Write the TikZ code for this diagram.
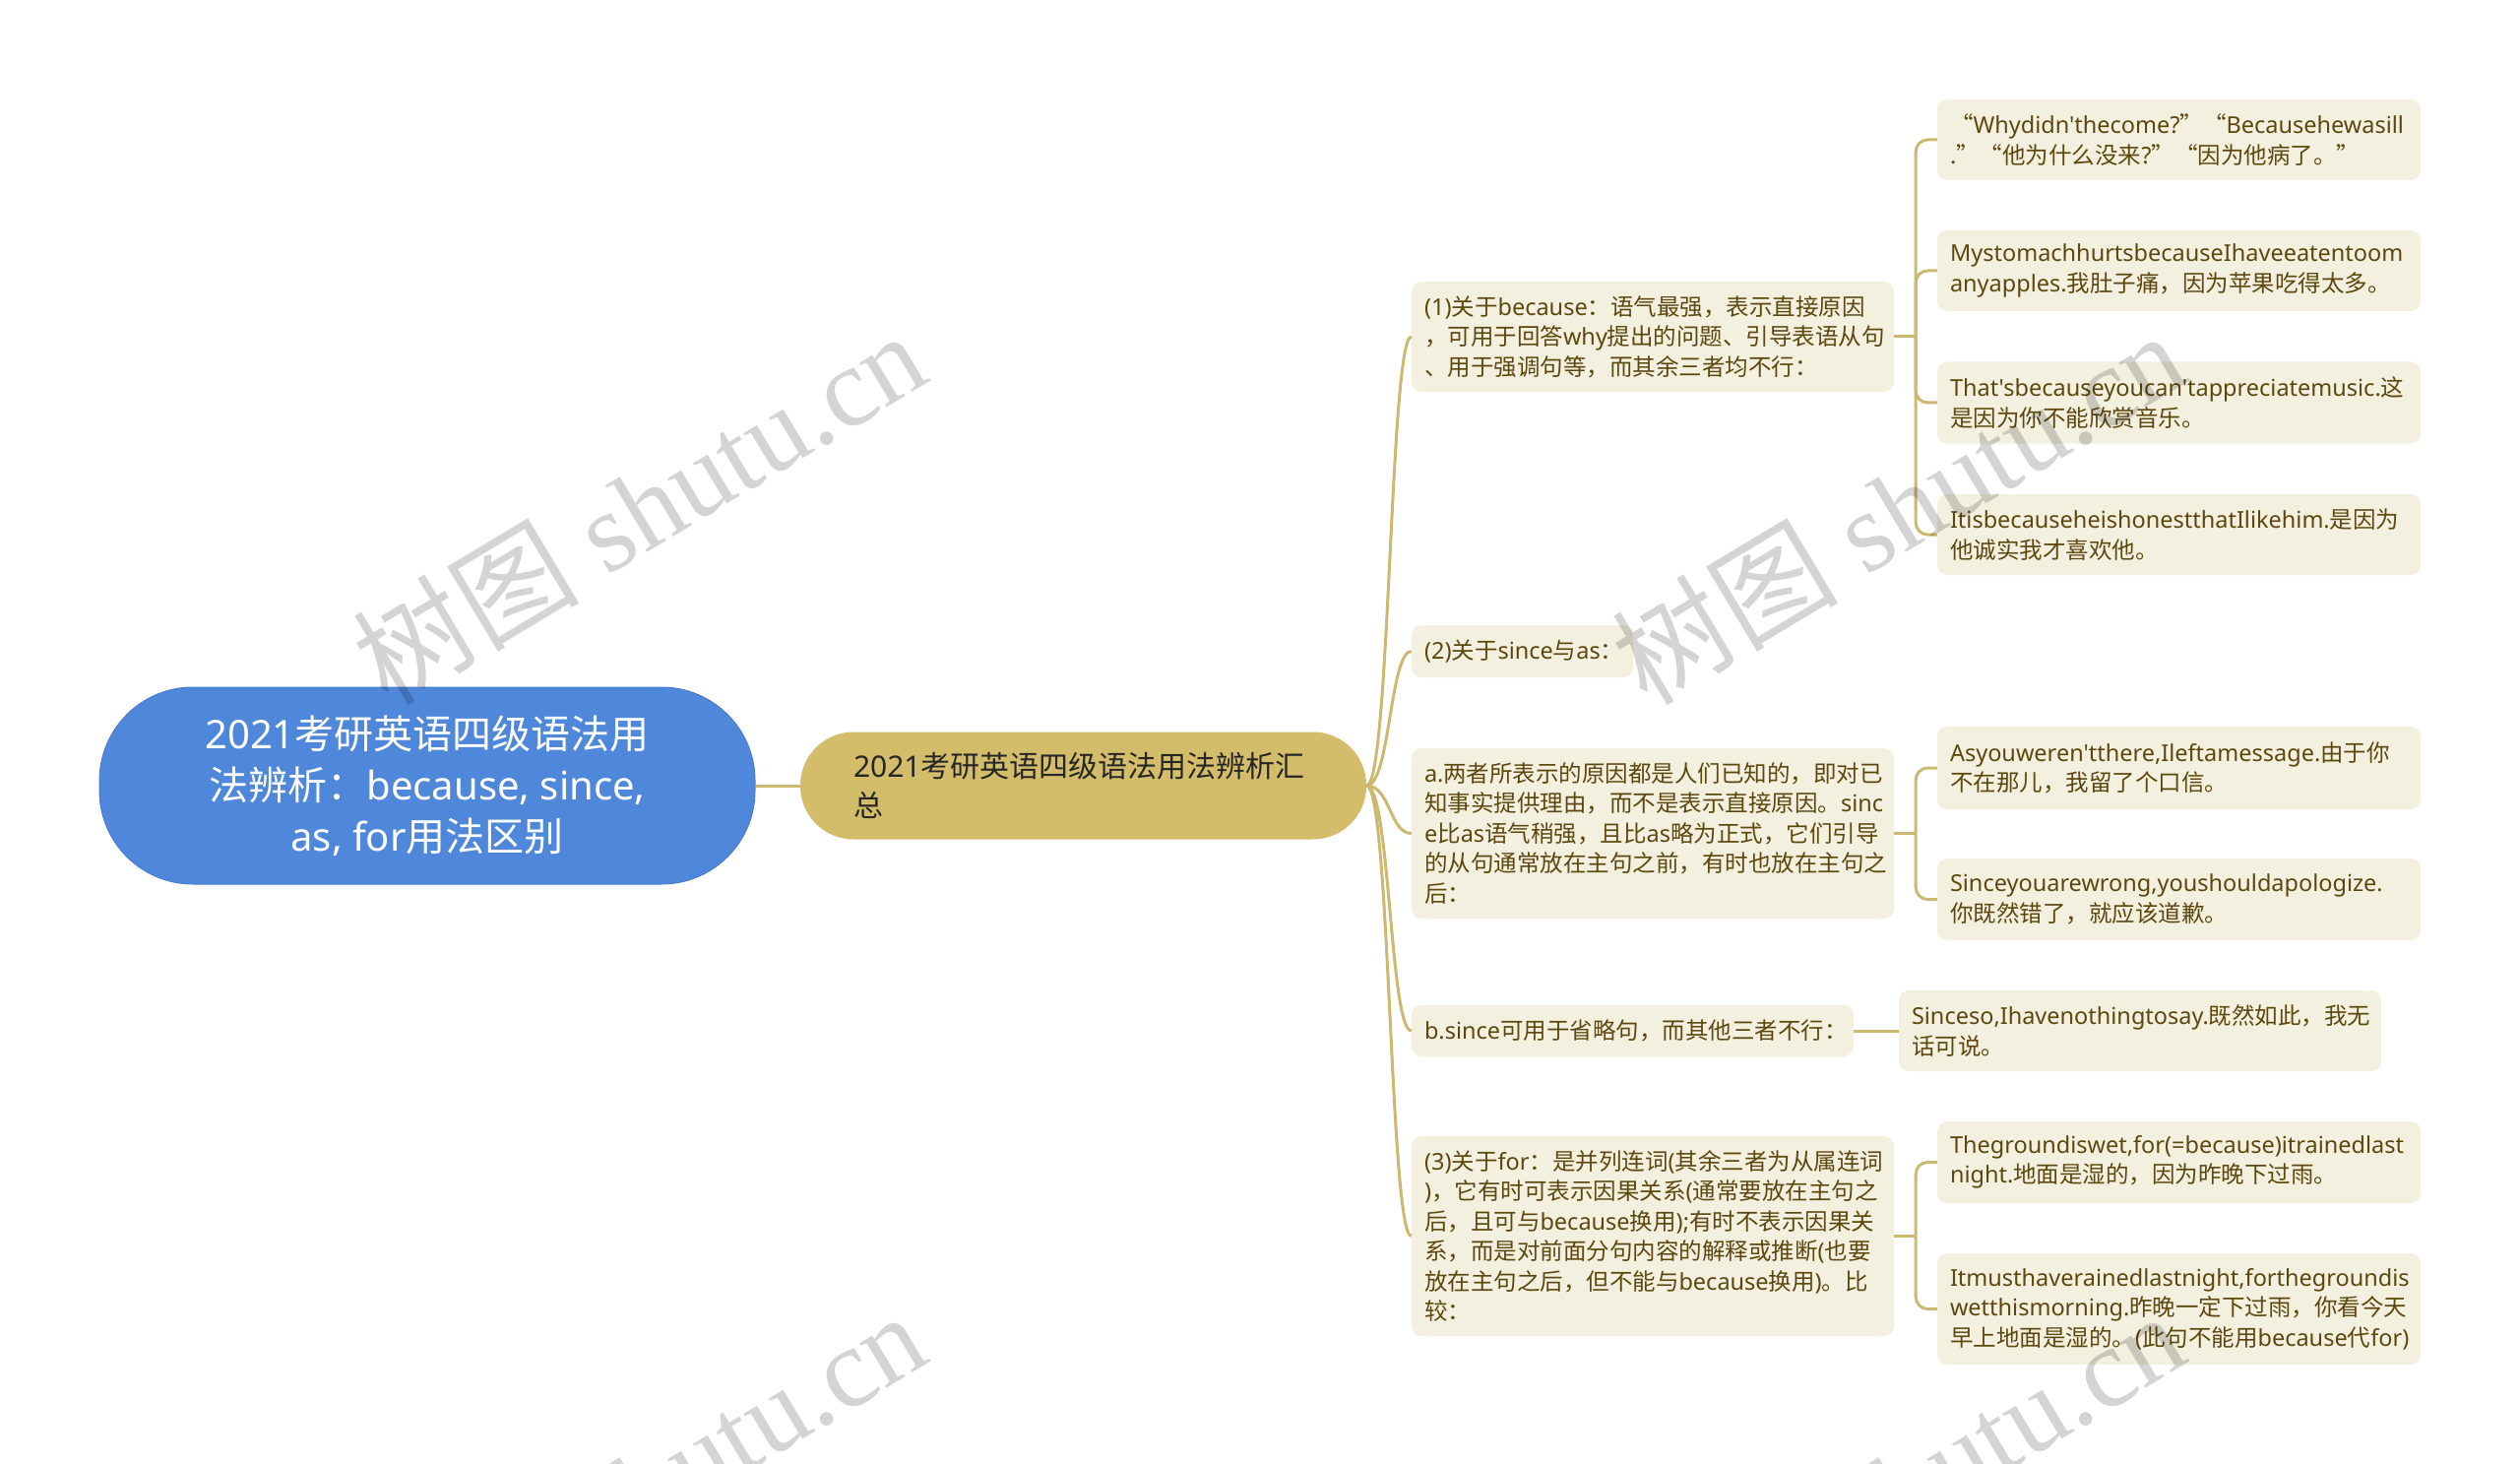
\documentclass[tikz,border=0pt]{standalone}
\usepackage{fontspec}
\setmainfont{Noto Sans}[Ligatures=TeXOff]
\newfontfamily\cjkfont{Noto Sans CJK SC}
\newfontfamily\wmfont{Liberation Serif}
% automatic switch to the CJK font for CJK characters
\XeTeXinterchartokenstate=1
\newXeTeXintercharclass\cjkcls
\newcount\cjkc
\def\setclassrange#1#2#3{\cjkc=#1\relax
  \loop\XeTeXcharclass\cjkc=#3\relax
  \ifnum\cjkc<#2\relax\advance\cjkc by 1\relax\repeat}
\setclassrange{"0000}{"2E7F}{0}
\setclassrange{"2E80}{"9FFF}{\cjkcls}
\setclassrange{"FF00}{"FFEF}{\cjkcls}
\XeTeXcharclass"201C=\cjkcls
\XeTeXcharclass"201D=\cjkcls
\XeTeXinterchartoks 0 \cjkcls = {\begingroup\cjkfont}
\XeTeXinterchartoks 4095 \cjkcls = {\begingroup\cjkfont}
\XeTeXinterchartoks \cjkcls 0 = {\endgroup}
\XeTeXinterchartoks \cjkcls 4095 = {\endgroup}

\definecolor{rootblue}{HTML}{4F87DB}
\definecolor{rootedge}{HTML}{4A7DCC}
\definecolor{maingold}{HTML}{D4BD6A}
\definecolor{linegold}{HTML}{CCB86F}
\definecolor{leafbg}{HTML}{F4F0E0}
\definecolor{leaftext}{HTML}{5C480E}

\tikzset{
  conn/.style={draw=linegold, line width=3pt},
  rootbox/.style={fill=rootblue, draw=rootedge, line width=1pt, rounded corners=95pt,
    minimum width=666pt, minimum height=200pt, inner sep=0pt, align=center,
    text=white, font=\fontsize{40}{52}\selectfont},
  mainbox/.style={fill=maingold, rounded corners=54pt, minimum height=109pt,
    inner xsep=54pt, inner ysep=0pt, text width=467pt, align=left,
    text=black!85, font=\fontsize{30}{40}\selectfont},
  tbox/.style={fill=leafbg, rounded corners=10pt, inner xsep=13pt, inner ysep=0pt,
    align=left, text=leaftext, font=\fontsize{23.5}{30.5}\selectfont},
  wm/.style={text=black, text opacity=0.17, font=\wmfont\fontsize{115}{115}\selectfont,
    rotate=31, inner sep=0pt},
}

\begin{document}
\begin{tikzpicture}[x=1pt, y=-1pt]
\useasboundingbox (0,0) rectangle (2560,1487);

% root and main
\node[rootbox] (root) at (434,798) {2021考研英语四级语法用\\法辨析：because, since,\\as, for用法区别};
\node[mainbox] (main) at (1100.5,798) {2021考研英语四级语法用法辨析汇\\总};

% second level
\node[tbox, text width=464pt, minimum height=112pt] (n1) at (1679,342)
  {(1)关于because：语气最强，表示直接原因\\，可用于回答why提出的问题、引导表语从句\\、用于强调句等，而其余三者均不行：};
\node[tbox, text width=199pt, minimum height=53pt] (n2) at (1546.5,661.5)
  {(2)关于since与as：};
\node[tbox, text width=464pt, minimum height=173pt] (na) at (1679,846.5)
  {a.两者所表示的原因都是人们已知的，即对已\\知事实提供理由，而不是表示直接原因。sinc\\e比as语气稍强，且比as略为正式，它们引导\\的从句通常放在主句之前，有时也放在主句之\\后：};
\node[tbox, text width=423pt, minimum height=52pt] (nb) at (1658.5,1047)
  {b.since可用于省略句，而其他三者不行：};
\node[tbox, text width=464pt, minimum height=203pt] (n3) at (1679,1255.5)
  {(3)关于for：是并列连词(其余三者为从属连词\\)，它有时可表示因果关系(通常要放在主句之\\后，且可与because换用);有时不表示因果关\\系，而是对前面分句内容的解释或推断(也要\\放在主句之后，但不能与because换用)。比\\较：};

% leaves
\node[tbox, text width=465pt, minimum height=82pt] (l1) at (2213.5,142)
  {“Whydidn'thecome?”“Becausehewasill\\.”“他为什么没来?”“因为他病了。”};
\node[tbox, text width=465pt, minimum height=82pt] (l2) at (2213.5,275)
  {MystomachhurtsbecauseIhaveeatentoom\\anyapples.我肚子痛，因为苹果吃得太多。};
\node[tbox, text width=465pt, minimum height=83pt] (l3) at (2213.5,409)
  {That'sbecauseyoucan'tappreciatemusic.这\\是因为你不能欣赏音乐。};
\node[tbox, text width=465pt, minimum height=82pt] (l4) at (2213.5,543)
  {ItisbecauseheishonestthatIlikehim.是因为\\他诚实我才喜欢他。};
\node[tbox, text width=465pt, minimum height=84pt] (l5) at (2213.5,780)
  {Asyouweren'tthere,Ileftamessage.由于你\\不在那儿，我留了个口信。};
\node[tbox, text width=465pt, minimum height=83pt] (l6) at (2213.5,913.5)
  {Sinceyouarewrong,youshouldapologize.\\你既然错了，就应该道歉。};
\node[tbox, text width=464pt, minimum height=82pt] (lb) at (2174,1047)
  {Sinceso,Ihavenothingtosay.既然如此，我无\\话可说。};
\node[tbox, text width=465pt, minimum height=83pt] (l7) at (2213.5,1180.5)
  {Thegroundiswet,for(=because)itrainedlast\\night.地面是湿的，因为昨晚下过雨。};
\node[tbox, text width=465pt, minimum height=113pt] (l8) at (2213.5,1329.5)
  {Itmusthaverainedlastnight,forthegroundis\\wetthismorning.昨晚一定下过雨，你看今天\\早上地面是湿的。(此句不能用because代for)};

% connectors
\draw[conn] (root.east) -- (main.west);
\foreach \c in {n1,n2,na,nb,n3}
  \draw[conn] (main.east) .. controls +(24,0) and +(-22,0) .. (\c.west);

\draw[conn] (n1.east) -- ++(22,0) coordinate (j1);
\draw[conn] (na.east) -- ++(22,0) coordinate (ja);
\draw[conn] (n3.east) -- ++(22,0) coordinate (j3);
\foreach \c in {l1,l2,l3,l4}
  \draw[conn, rounded corners=12pt] (j1) |- (\c.west);
\foreach \c in {l5,l6}
  \draw[conn, rounded corners=12pt] (ja) |- (\c.west);
\foreach \c in {l7,l8}
  \draw[conn, rounded corners=12pt] (j3) |- (\c.west);
\draw[conn] (nb.east) -- (lb.west);

% watermarks
\begin{scope}
\clip (0,0) rectangle (2560,1487);
\node[wm] (w1) at (649,515) {树图 shutu.cn};
\node[wm] (w2) at (1928,515) {树图 shutu.cn};
\node[wm] (w3) at (649,1511) {树图 shutu.cn};
\node[wm] (w4) at (1928,1511) {树图 shutu.cn};
\end{scope}
\end{tikzpicture}
\end{document}
